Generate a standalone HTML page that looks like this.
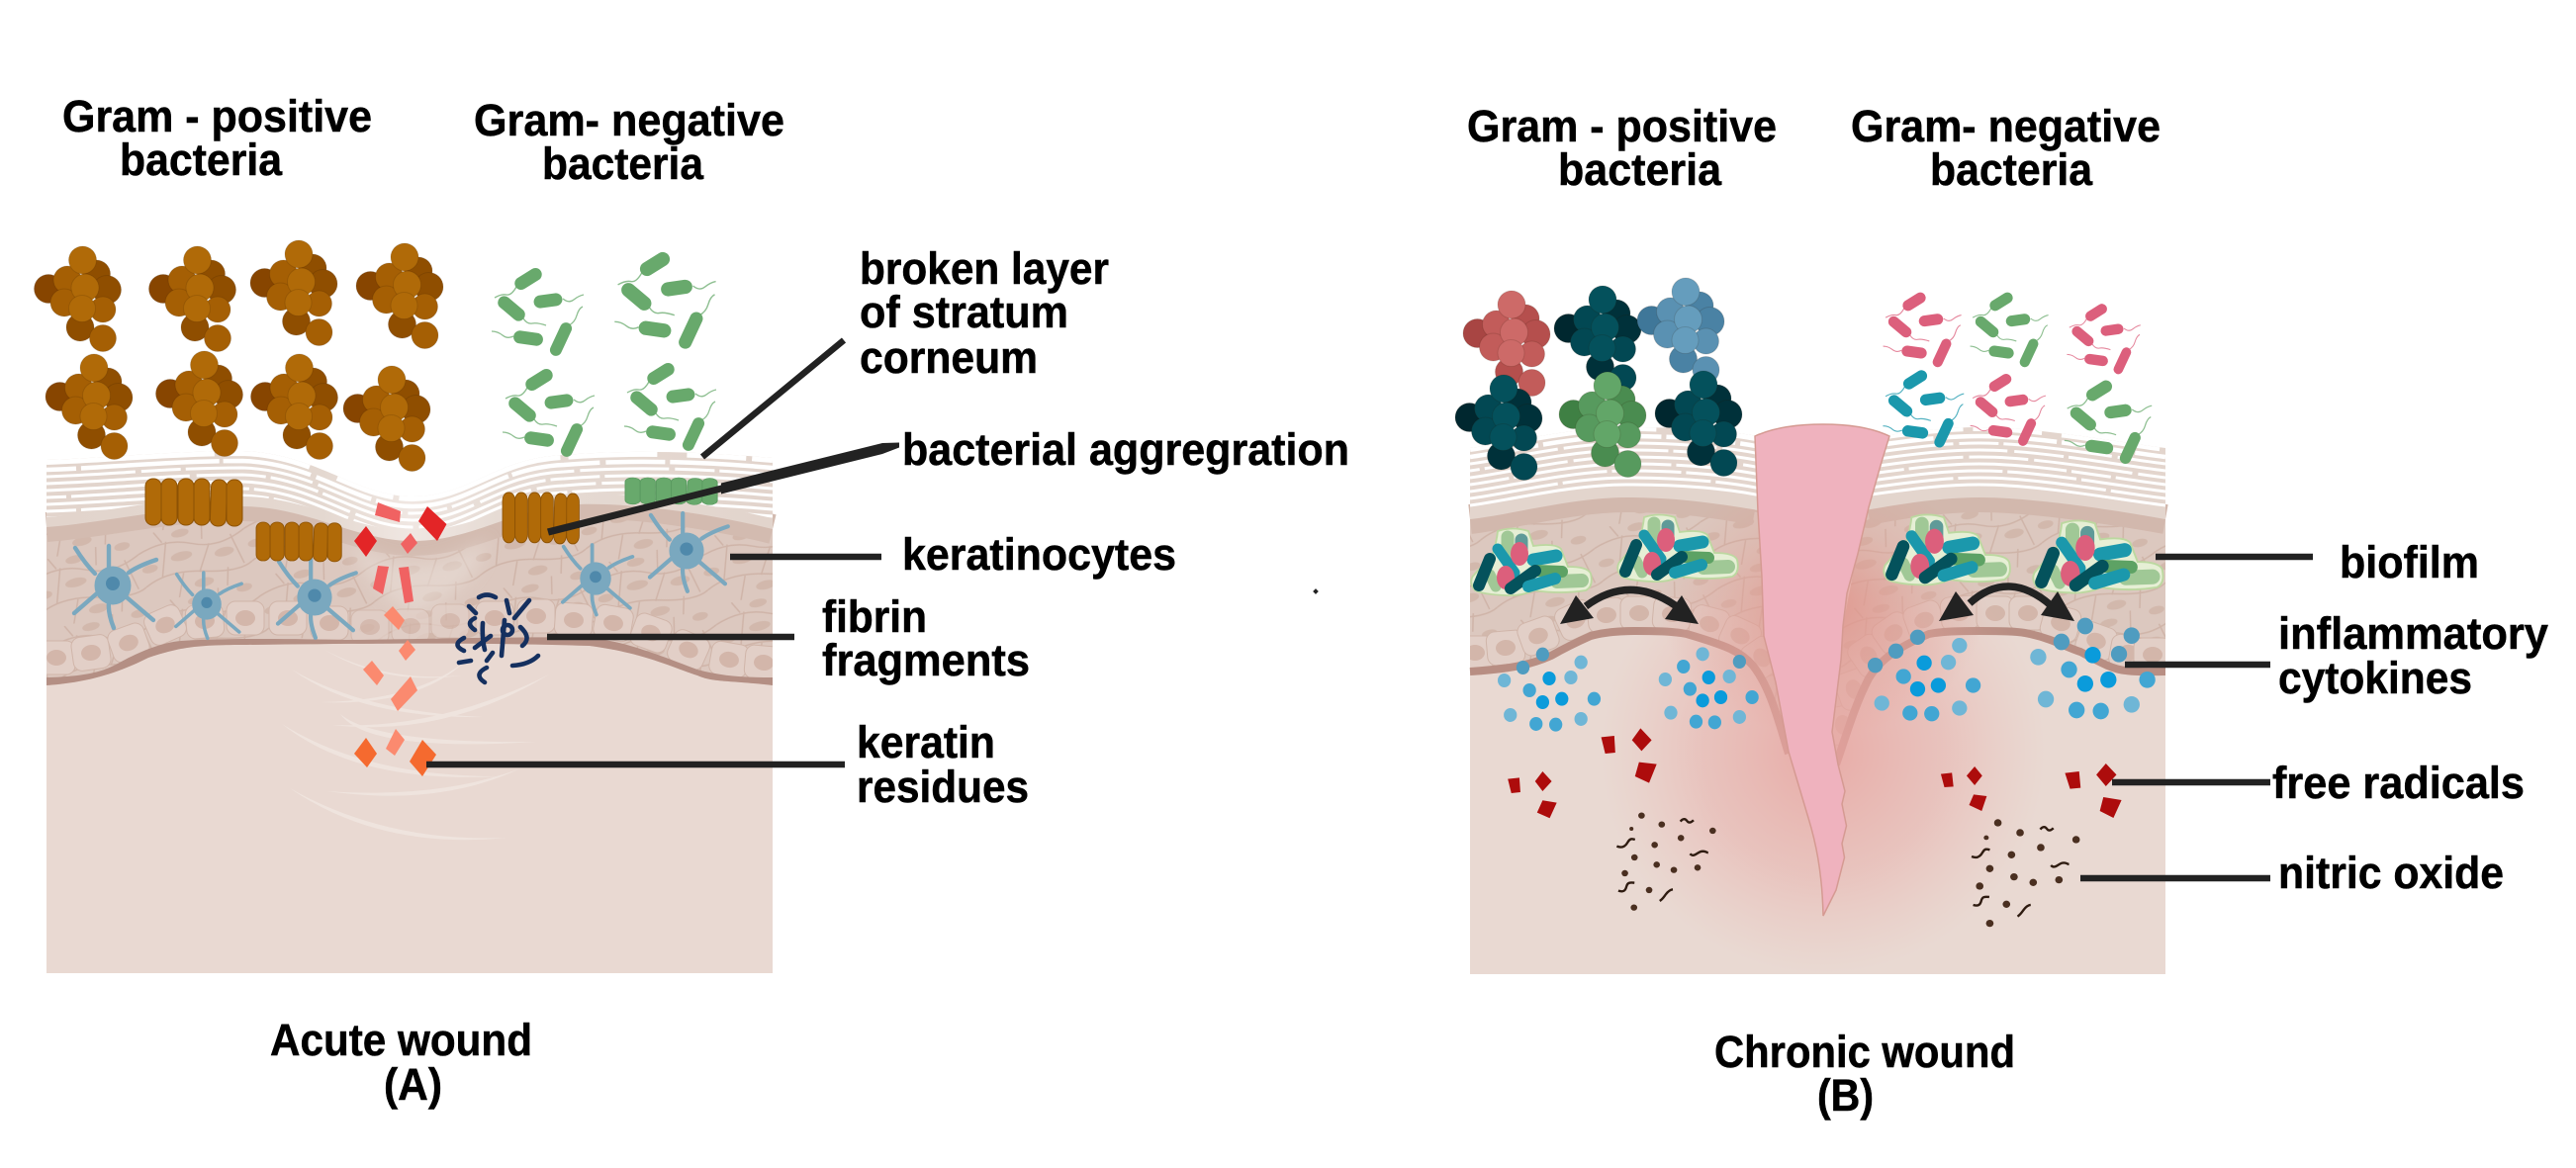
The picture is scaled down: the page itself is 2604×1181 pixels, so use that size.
<!DOCTYPE html>
<html><head><meta charset="utf-8"><title>Acute and chronic wound</title>
<style>
html,body{margin:0;padding:0;background:#fff}
svg{display:block}
text{font-family:"Liberation Sans",sans-serif;font-weight:bold;font-size:45px;fill:#000;stroke:#000;stroke-width:.5}
.x{fill:var(--x)}.d{fill:var(--d)}.m{fill:var(--m)}.l{fill:var(--l)}
.ball{stroke:rgba(40,20,0,.14);stroke-width:1}
.rod{fill:var(--c)}.fl{fill:none;stroke:var(--c);stroke-width:1.3;opacity:.75}
.st{fill:var(--r);stroke:var(--s);stroke-width:1}
.ld{stroke:#222;stroke-width:6.5;fill:none}
.wl{fill:none;stroke:#fff;stroke-width:3}
.dl{fill:#6fb6d6}.dm{fill:#42a6d3}.db{fill:#0a9bdb}.dk{fill:#4f9cc0}
.den{fill:none;stroke:#7aa8bf;stroke-width:4.4;stroke-linecap:round}
.fib{fill:none;stroke:#15305f;stroke-width:4.6;stroke-linecap:round}
.sq{fill:none;stroke:#2e1b10;stroke-width:2.4;vector-effect:non-scaling-stroke}
.bfl{fill:none;stroke-linecap:round}
.str{fill:#efe4de}
</style></head><body>
<svg xmlns="http://www.w3.org/2000/svg" width="2604" height="1181" viewBox="0 0 2604 1181">
<defs>
<filter id="bl" x="-30%" y="-30%" width="160%" height="160%"><feGaussianBlur stdDeviation="8"/></filter>
<pattern id="cells" width="110" height="70" patternUnits="userSpaceOnUse" patternTransform="rotate(-14)">
<rect width="110" height="70" fill="#dcc8bf"/>
<path d="M0,18 Q30,8 55,20 T110,18 M0,52 Q25,40 60,50 T110,52 M30,12 L18,47 M72,24 L56,50 M95,20 L102,52 M40,47 L30,70 M85,52 L80,70 M20,0 L26,12 M70,0 L66,18" fill="none" stroke="#cfb4a8" stroke-width="1.5"/>
<g fill="#d2b8ac"><ellipse cx="42" cy="30" rx="11" ry="4.5"/><ellipse cx="85" cy="36" rx="10" ry="4.5"/><ellipse cx="58" cy="61" rx="10" ry="4.5"/><ellipse cx="8" cy="35" rx="8" ry="4"/><ellipse cx="46" cy="7" rx="9" ry="4"/><ellipse cx="96" cy="6" rx="8" ry="4"/></g>
</pattern>
<radialGradient id="glow"><stop offset="0" stop-color="#e8a39f" stop-opacity=".85"/><stop offset=".55" stop-color="#e8a8a4" stop-opacity=".45"/><stop offset="1" stop-color="#e9b5b0" stop-opacity="0"/></radialGradient>
<radialGradient id="glow2"><stop offset="0" stop-color="#df8a80" stop-opacity=".75"/><stop offset=".6" stop-color="#e09a90" stop-opacity=".3"/><stop offset="1" stop-color="#e09a90" stop-opacity="0"/></radialGradient>
<linearGradient id="scl" gradientUnits="userSpaceOnUse" x1="47" y1="0" x2="781" y2="0"><stop offset="0" stop-color="#e2d4cc"/><stop offset=".38" stop-color="#e4d8d0"/><stop offset=".5" stop-color="#f0e7e2"/><stop offset=".62" stop-color="#e6dbd4"/><stop offset="1" stop-color="#e2d4cc"/></linearGradient>
<clipPath id="scL"><path d="M47,465 C110,463 170,456 245,456 C320,458 360,502 417,502 C475,502 500,463 570,460 C630,455 700,456 781,463 L781,524 C720,510 640,498 585,500 C520,502 480,537 417,537 C360,537 310,502 245,502 C170,502 110,518 47,523 Z"/></clipPath>
<clipPath id="scR1"><path d="M1486,453 C1530,447 1590,432 1644,432 C1690,432 1740,434 1776,441 L1776,505 C1730,497 1690,492 1644,492 C1590,492 1530,509 1486,514 Z"/></clipPath>
<clipPath id="scR2"><path d="M1900,441 C1940,436 1970,432 2001,432 C2060,432 2140,447 2189,453 L2189,514 C2150,507 2060,492 2001,492 C1960,492 1920,499 1885,505 Z"/></clipPath>
<clipPath id="epL"><path d="M47,530 C110,525 170,508 245,508 C310,508 360,543 417,543 C480,543 520,508 585,506 C640,505 720,518 781,532 L781,693 C740,688 720,690 705,683 C680,675 650,660 596,653 C500,650 400,650 250,652 C200,652 183,654 150,665 C120,680 90,690 47,693 Z"/></clipPath>
<clipPath id="epR"><path d="M1486,522 C1530,517 1590,500 1644,500 C1690,500 1740,505 1778,515 L1781,583 L1783,643 L1795,690 L1808,762 C1798,735 1790,700 1772,677 C1760,663 1746,657 1705,645 C1690,642 1670,642 1654,642 C1630,642 1615,645 1608,647 C1590,655 1575,663 1568,667 C1550,675 1532,680 1486,683 Z"/><path d="M1889,513 C1925,505 1965,500 2001,500 C2060,500 2150,517 2189,522 L2189,683 C2175,683 2165,684 2149,682 C2135,681 2120,672 2103,663 C2090,659 2075,650 2052,645 C2040,642 2020,642 2001,642 C1985,642 1965,642 1950,645 C1915,660 1900,672 1889,690 C1874,719 1866,749 1856,773 L1852,740 L1861,667 L1863,633 L1875,570 Z"/></clipPath>
<path id="wlL" d="M47,470 C110,468 170,461 245,461 C320,463 360,507 417,507 C475,507 500,468 570,465 C630,460 700,461 781,468"/>
<path id="wlA" d="M1486,458 C1530,452 1590,437 1644,437 C1690,437 1740,440 1780,448"/>
<path id="wlB" d="M1885,448 C1940,440 1970,437 2001,437 C2060,437 2140,452 2189,458"/>
<g id="cl">
<circle class="x ball" cx="-34.5" cy="29" r="14.5"/><circle class="d ball" cx="14" cy="14" r="14"/><circle class="d ball" cx="24.5" cy="30" r="14.5"/><circle class="d ball" cx="-2.5" cy="68" r="14"/><circle class="m ball" cx="20.5" cy="79" r="13.5"/>
<circle class="m ball" cx="-15.5" cy="20" r="14"/><circle class="m ball" cx="-18.5" cy="43" r="14"/><circle class="l ball" cx="2.5" cy="28" r="14"/><circle class="l ball" cx="0" cy="0" r="14"/><circle class="m ball" cx="20.5" cy="50" r="13"/><circle class="l ball" cx="-.5" cy="49" r="13.5"/>
</g>
<g id="rg">
<path class="fl" d="M-12,8 q-5,9 -10,8 t-12,3 M35,20 q6,5 11,1 t10,-5 M-5,40 q4,6 9,5 t14,2 M41,47 q6,-3 8,-10 t6,-9 M-15,58 q-6,3 -11,-1 t-11,-4"/>
<rect class="rod" x="-15" y="-6.5" width="30" height="13" rx="6.5" transform="rotate(-32)"/>
<rect class="rod" x="-14.5" y="-6.5" width="29" height="13" rx="6.5" transform="translate(20,22) rotate(-8)"/>
<rect class="rod" x="-16" y="-6.5" width="32" height="13" rx="6.5" transform="translate(-17,30) rotate(40)"/>
<rect class="rod" x="-18" y="-6" width="36" height="12" rx="6" transform="translate(33,61) rotate(-65)"/>
<rect class="rod" x="-15" y="-6.5" width="30" height="13" rx="6.5" transform="translate(0,60) rotate(8)"/>
</g>
<g id="st">
<rect class="st" x="0" width="16" height="47" rx="7.5"/><rect class="st" x="16" y="0" width="16" height="47" rx="7.5"/><rect class="st" x="33" y="0" width="16" height="47" rx="7.5"/><rect class="st" x="49" y="0" width="16" height="47" rx="7.5"/><rect class="st" x="66" y="1" width="16" height="47" rx="7.5" transform="rotate(2 74 24)"/><rect class="st" x="82" y="1" width="16" height="47" rx="7.5"/>
</g>
<g id="den">
<path class="den" d="M-4,-18 L-4,-40 M-18,-12 Q-28,-22 -38,-38 M16,-13 Q26,-20 44,-26 M-16,8 L-39,28 M-4,18 Q-5,28 1,43 M14,12 L41,35"/>
<ellipse rx="18.5" ry="19.5" fill="#7aa8bf"/><circle cx="0" cy="-2" r="7" fill="#4f89ab"/>
</g>
<g id="bc"><rect x="-19" y="-17" width="38" height="34" rx="9" fill="#e2cfc7" stroke="#d0b5a9" stroke-width="1"/><ellipse rx="10" ry="8" fill="#d3b6aa"/></g>
<g id="bf">
<path d="M27,2 Q42,-3 58,2 L63,17 Q85,14 91,20 L98,38 Q118,38 121,45 Q124,58 116,62 Q90,66 64,62 Q50,68 35,67 Q12,66 4,62 Q-2,55 1.5,48 L22,25 Q26,12 27,2Z" fill="#e6efd5" stroke="#bcd8a0" stroke-width="1.8"/>
<g class="bfl">
<line x1="37" y1="8" x2="37" y2="28" stroke="#a0c896" stroke-width="13" stroke-linecap="round"/>
<line x1="51" y1="11" x2="51" y2="28" stroke="#5f9a98" stroke-width="13" stroke-linecap="round"/>
<line x1="19" y1="46" x2="25" y2="58" stroke="#a0c896" stroke-width="11" stroke-linecap="round"/>
<line x1="87" y1="53" x2="112" y2="52" stroke="#a0c896" stroke-width="14" stroke-linecap="round"/>
<line x1="27" y1="20" x2="44" y2="44" stroke="#1b98ac" stroke-width="11" stroke-linecap="round"/>
<line x1="19" y1="30" x2="8" y2="57" stroke="#04525c" stroke-width="12" stroke-linecap="round"/>
<line x1="63" y1="31" x2="86" y2="27" stroke="#1b98ac" stroke-width="13" stroke-linecap="round"/>
<line x1="65" y1="42" x2="92" y2="43" stroke="#5da264" stroke-width="12" stroke-linecap="round"/>
<ellipse cx="49" cy="25" rx="9" ry="12" fill="#dc5f7c"/><ellipse cx="35" cy="49" rx="9" ry="12" fill="#dc5f7c"/>
<line x1="40" y1="60" x2="65" y2="42" stroke="#04525c" stroke-width="12" stroke-linecap="round"/>
<line x1="58" y1="58" x2="85" y2="50" stroke="#1b98ac" stroke-width="12" stroke-linecap="round"/>
</g>
</g>
<ellipse id="c1" rx="13" ry="21"/><ellipse id="c2" rx="15" ry="23"/><ellipse id="c3" rx="16" ry="25"/>
<ellipse id="n1" rx="6.5" ry="9.5" fill="#4a2f20"/><ellipse id="n2" rx="7.5" ry="11" fill="#4a2f20"/>
<path id="sq1" class="sq" d="M0,0 c5,-10 10,-9 13,-2 s8,6 13,-2"/>
<path id="sq2" class="sq" d="M0,0 c12,8 18,-2 22,-13 s8,-10 14,-7"/>
<path id="sq3" class="sq" d="M0,0 c8,12 14,-4 22,-7 s10,3 14,4"/>
<path id="sq4" class="sq" d="M0,0 c10,5 14,0 16,-12 s6,-14 16,-12"/>
<path id="sq5" class="sq" d="M0,0 c6,-6 8,-12 12,-20 s8,-14 14,-15"/>
</defs>

<!-- LEFT PANEL -->
<rect x="47" y="640" width="734" height="344" fill="#e9d9d2"/>
<path d="M47,530 C110,525 170,508 245,508 C310,508 360,543 417,543 C480,543 520,508 585,506 C640,505 720,518 781,532 L781,693 C740,688 720,690 705,683 C680,675 650,660 596,653 C500,650 400,650 250,652 C200,652 183,654 150,665 C120,680 90,690 47,693 Z" fill="url(#cells)"/>
<path d="M47,533 C110,528 170,512 245,512 C310,512 360,547 417,547 C480,547 520,512 585,510 C640,508 720,520 781,535" fill="none" stroke="#d3bbb0" stroke-width="30"/>
<path d="M350,545 Q417,595 492,545 Q485,592 420,622 Q380,605 350,545Z" fill="#e8ddd6" opacity=".6" filter="url(#bl)"/>
<g clip-path="url(#epL)">
<use href="#bc" transform="translate(57,665)"/><use href="#bc" transform="translate(92,660) rotate(-8)"/><use href="#bc" transform="translate(130,650) rotate(-20)"/><use href="#bc" transform="translate(167,632) rotate(-24)"/><use href="#bc" transform="translate(207,628) rotate(-5)"/><use href="#bc" transform="translate(248,625)"/><use href="#bc" transform="translate(291,625)"/><use href="#bc" transform="translate(333,630)"/><use href="#bc" transform="translate(374,634)" opacity=".75"/><use href="#bc" transform="translate(415,633)" opacity=".75"/><use href="#bc" transform="translate(455,628)" opacity=".75"/><use href="#bc" transform="translate(500,625)"/><use href="#bc" transform="translate(542,623)"/><use href="#bc" transform="translate(580,627) rotate(4)"/><use href="#bc" transform="translate(620,630) rotate(10)"/><use href="#bc" transform="translate(658,640) rotate(20)"/><use href="#bc" transform="translate(696,657) rotate(24)"/><use href="#bc" transform="translate(737,667) rotate(10)"/><use href="#bc" transform="translate(772,670) rotate(5)"/>
</g>
<path d="M47,693 C90,690 120,680 150,665 C183,654 200,652 250,652 C400,650 500,650 596,653 C650,660 680,675 705,683 C720,690 740,688 781,693 L781,685 C755,685 730,684 705,677 C660,660 630,648 596,645 C550,643 450,646 350,647 C300,646 230,645 183,648 C160,650 135,662 117,672 C105,678 90,684 47,685 Z" fill="#b48f84"/>
<path d="M47,465 C110,463 170,456 245,456 C320,458 360,502 417,502 C475,502 500,463 570,460 C630,455 700,456 781,463 L781,535 C720,520 640,508 585,510 C520,512 480,547 417,547 C360,547 310,512 245,512 C170,512 110,528 47,533 Z" fill="url(#scl)"/>
<g clip-path="url(#scL)">
<use href="#wlL" class="wl" y="-3" style="stroke-width:6;stroke-dasharray:170 8 90 30 60 6"/>
<use href="#wlL" class="wl" y="5" style="stroke-width:4.5;stroke-dasharray:60 5 140 4 90 6;stroke-dashoffset:30"/>
<use href="#wlL" class="wl" y="12" style="stroke-dasharray:90 6 40 5 130 6"/>
<use href="#wlL" class="wl" y="19" style="stroke-dasharray:50 5 160 7 70 5;stroke-dashoffset:70"/>
<use href="#wlL" class="wl" y="26" style="stroke-dasharray:120 6 60 6"/>
<use href="#wlL" class="wl" y="33" style="stroke-dasharray:40 5 180 5 100 6;stroke-dashoffset:20"/>
<use href="#wlL" class="wl" y="40" style="stroke-dasharray:150 5 70 5"/>
<use href="#wlL" class="wl" y="47" style="stroke-dasharray:80 5 200 5;stroke-dashoffset:50"/>
<use href="#wlL" class="wl" y="54"/>
</g>
<!-- dermal streaks -->
<path class="str" d="M328,657 Q390,690 466,683 Q390,694 328,657Z"/>
<path class="str" d="M295,677 Q369,720 488,725 Q365,727 295,677Z"/>
<path class="str" d="M325,710 Q423,708 472,667 Q425,714 325,710Z"/>
<path class="str" d="M336,733 Q444,738 555,682 Q450,746 336,733Z"/>
<path class="str" d="M344,722 Q379,752 542,750 Q372,761 344,722Z"/>
<path class="str" d="M285,732 Q369,785 504,785 Q362,793 285,732Z"/>
<path class="str" d="M331,800 Q444,808 526,777 Q444,816 331,800Z"/>
<path class="str" d="M293,797 Q390,852 512,847 Q385,860 293,797Z"/>
<!-- fragments -->
<g fill="#e32527"><polygon points="432,512 451.5,530 442,547 423,527"/><polygon points="370,532 381,547 370,563 358,547"/></g>
<g fill="#f06262"><polygon points="382,508 405,517 404,528 379,521"/><polygon points="415,539 422,549 412,560 405,550"/><polygon points="382,572 393,573 387,601 377,595"/><polygon points="403,574 413,573 418,608 409,610"/></g>
<g fill="#fb8a6f"><polygon points="397,613 409,627 403,637 388,622"/><polygon points="412,647 420,657 410,668 403,658"/><polygon points="376,668 388,683 381,693 367,677"/><polygon points="415,684 422,698 402,719 395,707"/><polygon points="400,737 409,748 399,764 390,757"/></g>
<g fill="#f56a2f"><polygon points="370,746 381,762 371,776 358,762"/><polygon points="427,748 441,763 427,785 414,770"/></g>
<!-- fibrin -->
<g class="fib">
<path d="M484,604 Q492,599 501,604 M512,607 L515,620 M535,607 L520,625 M474,613 L481,620 M480,637 Q470,630 480,625 M488,630 Q487,645 490,657 M480,655 L496,643 M510,627 L507,663 M526,634 Q538,645 528,653 M469,645 Q456,652 469,658 M464,670 L476,668 M498,660 L492,668 M518,673 Q535,672 544,663 M492,675 Q478,682 490,690"/>
<circle cx="513" cy="637" r="5"/>
</g>
<!-- dendritic -->
<use href="#den" transform="translate(114,592)"/><use href="#den" transform="translate(209,611) scale(.8)"/><use href="#den" transform="translate(318,604) scale(.95)"/><use href="#den" transform="translate(602,585) scale(.85)"/><use href="#den" transform="translate(694,557) scale(.95)"/>
<!-- stacks -->
<g style="--r:#b06a08;--s:#8d5204">
<use href="#st" transform="translate(147,484)"/><use href="#st" transform="translate(259,528) scale(.88,.83)"/><use href="#st" transform="translate(508,498) scale(.79,1.08)"/>
</g>
<use href="#st" transform="translate(632,483) scale(.95,.57)" style="--r:#68a96c;--s:#5a9a60"/>
<!-- clusters left -->
<g style="--x:#874500;--d:#8f4e00;--m:#a55f04;--l:#b06a08">
<use href="#cl" x="83.5" y="263"/><use href="#cl" x="199.5" y="263"/><use href="#cl" x="302" y="257"/><use href="#cl" x="409" y="260"/>
<use href="#cl" x="95" y="372"/><use href="#cl" x="206.5" y="369"/><use href="#cl" x="302.5" y="372"/><use href="#cl" x="396" y="384"/>
</g>
<!-- rods left -->
<g style="--c:#68a96c">
<use href="#rg" transform="translate(534,282)"/><use href="#rg" transform="translate(662,267) scale(1.1)"/><use href="#rg" transform="translate(545,384)"/><use href="#rg" transform="translate(668,378)"/>
</g>

<!-- RIGHT PANEL -->
<rect x="1486" y="630" width="703" height="355" fill="#e9d9d2"/>
<path d="M1486,522 C1530,517 1590,500 1644,500 C1690,500 1740,505 1778,515 L1781,583 L1783,643 L1795,690 L1808,762 C1798,735 1790,700 1772,677 C1760,663 1746,657 1705,645 C1690,642 1670,642 1654,642 C1630,642 1615,645 1608,647 C1590,655 1575,663 1568,667 C1550,675 1532,680 1486,683 Z" fill="url(#cells)"/>
<path d="M1889,513 C1925,505 1965,500 2001,500 C2060,500 2150,517 2189,522 L2189,683 C2175,683 2165,684 2149,682 C2135,681 2120,672 2103,663 C2090,659 2075,650 2052,645 C2040,642 2020,642 2001,642 C1985,642 1965,642 1950,645 C1915,660 1900,672 1889,690 C1874,719 1866,749 1856,773 L1852,740 L1861,667 L1863,633 L1875,570 Z" fill="url(#cells)"/>
<path d="M1486,525 C1530,520 1590,503 1644,503 C1690,503 1730,508 1774,516" fill="none" stroke="#d2b8ad" stroke-width="30"/>
<path d="M1888,516 C1920,510 1960,503 2001,503 C2060,503 2150,518 2189,525" fill="none" stroke="#d2b8ad" stroke-width="30"/>
<g clip-path="url(#epR)">
<use href="#bc" transform="translate(1491,660)"/><use href="#bc" transform="translate(1522,655) rotate(-5)"/><use href="#bc" transform="translate(1555,643) rotate(-20)"/><use href="#bc" transform="translate(1593,627) rotate(-25)"/><use href="#bc" transform="translate(1624,622) rotate(-5)"/><use href="#bc" transform="translate(1657,620)"/><use href="#bc" transform="translate(1690,621) rotate(5)"/><use href="#bc" transform="translate(1728,631) rotate(15)"/><use href="#bc" transform="translate(1759,643) rotate(25)"/><use href="#bc" transform="translate(1781,665) rotate(55)"/>
<use href="#bc" transform="translate(1863,733) rotate(80)"/><use href="#bc" transform="translate(1874,697) rotate(70)"/><use href="#bc" transform="translate(1889,663) rotate(55)"/><use href="#bc" transform="translate(1914,640) rotate(-35)"/><use href="#bc" transform="translate(1945,627) rotate(-20)"/><use href="#bc" transform="translate(1981,620) rotate(-5)"/><use href="#bc" transform="translate(2017,620)"/><use href="#bc" transform="translate(2050,620)"/><use href="#bc" transform="translate(2083,630) rotate(15)"/><use href="#bc" transform="translate(2119,648) rotate(20)"/><use href="#bc" transform="translate(2152,660) rotate(10)"/><use href="#bc" transform="translate(2176,662)"/>
</g>
<path d="M1486,679 C1532,676 1550,671 1568,663 C1575,659 1590,651 1608,643 C1615,641 1630,638 1654,638 C1670,638 1690,638 1705,641 C1746,653 1760,659 1772,673 C1790,696 1798,730 1808,762" fill="none" stroke="#b88e83" stroke-width="8"/>
<path d="M1856,773 C1866,745 1874,715 1889,686 C1900,668 1915,656 1950,641 C1965,638 1985,638 2001,638 C2020,638 2040,638 2052,641 C2075,646 2090,655 2103,659 C2120,668 2135,677 2149,678 C2165,680 2175,679 2189,679" fill="none" stroke="#b88e83" stroke-width="8"/>
<ellipse cx="1843" cy="760" rx="225" ry="225" fill="url(#glow)"/>
<ellipse cx="1843" cy="610" rx="165" ry="135" fill="url(#glow2)"/>
<path d="M1486,453 C1530,447 1590,432 1644,432 C1690,432 1740,434 1776,441 L1778,516 C1730,508 1690,503 1644,503 C1590,503 1530,520 1486,525 Z" fill="#e3d5cd"/>
<path d="M1900,441 C1940,436 1970,432 2001,432 C2060,432 2140,447 2189,453 L2189,525 C2150,518 2060,503 2001,503 C1960,503 1920,510 1885,516 Z" fill="#e3d5cd"/>
<g clip-path="url(#scR1)">
<use href="#wlA" class="wl" y="-4" style="stroke-width:6;stroke-dasharray:120 10 60 20"/>
<use href="#wlA" class="wl" y="4" style="stroke-width:4.5;stroke-dasharray:70 5 120 5"/>
<use href="#wlA" class="wl" y="11" style="stroke-dasharray:90 6 40 5 110 6"/>
<use href="#wlA" class="wl" y="18" style="stroke-dasharray:50 5 130 7;stroke-dashoffset:40"/>
<use href="#wlA" class="wl" y="25" style="stroke-dasharray:100 6 60 6"/>
<use href="#wlA" class="wl" y="32" style="stroke-dasharray:40 5 160 5"/>
<use href="#wlA" class="wl" y="39" style="stroke-dasharray:140 5 70 5"/>
<use href="#wlA" class="wl" y="46" style="stroke-dasharray:90 5 150 5"/>
<use href="#wlA" class="wl" y="53"/>
</g>
<g clip-path="url(#scR2)">
<use href="#wlB" class="wl" y="-4" style="stroke-width:6;stroke-dasharray:100 10 70 20"/>
<use href="#wlB" class="wl" y="4" style="stroke-width:4.5;stroke-dasharray:70 5 120 5"/>
<use href="#wlB" class="wl" y="11" style="stroke-dasharray:90 6 40 5 110 6"/>
<use href="#wlB" class="wl" y="18" style="stroke-dasharray:50 5 130 7;stroke-dashoffset:40"/>
<use href="#wlB" class="wl" y="25" style="stroke-dasharray:100 6 60 6"/>
<use href="#wlB" class="wl" y="32" style="stroke-dasharray:40 5 160 5"/>
<use href="#wlB" class="wl" y="39" style="stroke-dasharray:140 5 70 5"/>
<use href="#wlB" class="wl" y="46" style="stroke-dasharray:90 5 150 5"/>
<use href="#wlB" class="wl" y="53"/>
</g>
<path d="M1774,441 Q1800,429 1843,429 Q1885,429 1910,441 L1902,467 L1889,513 L1878,560 L1867,600 L1863,633 L1861,667 L1852,740 L1858,773 L1865,800 L1862,813 L1866.5,835 L1862,853 L1864.5,867 L1856,900 L1843,926 C1842,880 1835,850 1828,827 L1808,760 L1795,690 L1783,643 L1781,583 L1777,517 Z" fill="#efb2be" stroke="#d59a92" stroke-width="1.5"/>
<!-- clusters right -->
<use href="#cl" x="1528" y="308" style="--x:#a84543;--d:#b54f4d;--m:#c25c5a;--l:#cd6a68"/>
<use href="#cl" x="1620" y="303" style="--x:#00272f;--d:#00313a;--m:#024853;--l:#04515c"/>
<use href="#cl" x="1704" y="295" style="--x:#3f7799;--d:#4a82a4;--m:#5a91b2;--l:#659dbd"/>
<use href="#cl" x="1520" y="393" style="--x:#00272f;--d:#00313a;--m:#024853;--l:#04515c"/>
<use href="#cl" x="1625" y="390" style="--x:#3f8044;--d:#4a8c50;--m:#579a5e;--l:#62a668"/>
<use href="#cl" x="1722" y="389" style="--x:#00272f;--d:#00313a;--m:#024853;--l:#04515c"/>
<!-- rods right -->
<use href="#rg" transform="translate(1935,305) scale(.85)" style="--c:#dc5f7c"/>
<use href="#rg" transform="translate(2023,305) scale(.85)" style="--c:#68a96c"/>
<use href="#rg" transform="translate(2119,316) scale(.8)" style="--c:#dc5f7c"/>
<use href="#rg" transform="translate(1936,384) scale(.88)" style="--c:#1b98ac"/>
<use href="#rg" transform="translate(2022,387) scale(.82)" style="--c:#dc5f7c"/>
<use href="#rg" transform="translate(2122,395) scale(.95)" style="--c:#68a96c"/>
<!-- biofilm -->
<use href="#bf" transform="translate(1487,535)"/><use href="#bf" transform="translate(1635,521)"/><use href="#bf" transform="translate(1904,521) scale(1.05)"/><use href="#bf" transform="translate(2055,527) scale(1.08)"/>
<!-- arrows -->
<path d="M1603,613 Q1650,578 1700,617" fill="none" stroke="#222" stroke-width="7.5"/>
<polygon points="1593,602 1611,625 1577,631" fill="#222"/><polygon points="1700,602 1717,631 1683,626" fill="#222"/>
<path d="M1991,610 Q2030,575 2073,612" fill="none" stroke="#222" stroke-width="7.5"/>
<polygon points="1977,598 1995,622 1960,628" fill="#222"/><polygon points="2080,598 2097,628 2063,622" fill="#222"/>
<!-- cytokines, radicals, NO: coordinates in a scaled frame -->
<g transform="translate(1440,600) scale(.5102,.3333)">
<g class="dl"><use href="#c1" x="158" y="264"/><use href="#c1" x="290" y="255"/><use href="#c1" x="310" y="209"/><use href="#c1" x="170" y="369"/><use href="#c1" x="310" y="381"/><use href="#c1" x="551" y="184"/><use href="#c1" x="477" y="261"/><use href="#c1" x="604" y="252"/><use href="#c1" x="488" y="362"/><use href="#c1" x="624" y="375"/><use href="#c2" x="1060" y="158"/><use href="#c2" x="1038" y="209"/><use href="#c2" x="906" y="333"/><use href="#c2" x="1060" y="348"/><use href="#c3" x="1216" y="193"/><use href="#c3" x="1231" y="321"/><use href="#c3" x="1401" y="337"/></g>
<g class="dk"><use href="#c1" x="234" y="185"/><use href="#c1" x="195" y="225"/><use href="#c1" x="624" y="207"/><use href="#c2" x="977" y="133"/><use href="#c2" x="934" y="175"/><use href="#c2" x="893" y="218"/><use href="#c3" x="1262" y="147"/><use href="#c3" x="1309" y="99"/><use href="#c3" x="1401" y="128"/><use href="#c3" x="1376" y="184"/></g>
<g class="dm"><use href="#c1" x="208" y="294"/><use href="#c1" x="336" y="320"/><use href="#c1" x="221" y="396"/><use href="#c1" x="260" y="398"/><use href="#c1" x="513" y="222"/><use href="#c1" x="526" y="290"/><use href="#c1" x="649" y="315"/><use href="#c1" x="538" y="389"/><use href="#c1" x="575" y="391"/><use href="#c2" x="949" y="252"/><use href="#c2" x="1087" y="279"/><use href="#c2" x="962" y="363"/><use href="#c2" x="1005" y="365"/><use href="#c3" x="1277" y="231"/><use href="#c3" x="1432" y="262"/><use href="#c3" x="1292" y="354"/><use href="#c3" x="1340" y="357"/></g>
<g class="db"><use href="#c1" x="247" y="258"/><use href="#c1" x="234" y="330"/><use href="#c1" x="272" y="320"/><use href="#c1" x="563" y="255"/><use href="#c1" x="551" y="325"/><use href="#c1" x="587" y="315"/><use href="#c2" x="990" y="211"/><use href="#c2" x="977" y="290"/><use href="#c2" x="1018" y="279"/><use href="#c3" x="1324" y="187"/><use href="#c3" x="1309" y="274"/><use href="#c3" x="1355" y="262"/></g>
<g fill="#ad0c0c">
<polygon points="350,436 376,432 378,483 358,486"/><polygon points="428,409 450,445 430,478 411,445"/><polygon points="425,512 460,518 445,575 417,555"/><polygon points="165,563 188,559 190,603 172,606"/><polygon points="234,540 252,570 234,600 219,570"/><polygon points="234,628 262,635 248,682 223,665"/>
<polygon points="1023,548 1045,544 1048,586 1030,588"/><polygon points="1090,525 1105,553 1090,582 1074,553"/><polygon points="1088,610 1114,615 1104,660 1079,642"/><polygon points="1269,545 1297,540 1300,590 1279,593"/><polygon points="1350,516 1371,550 1350,585 1331,550"/><polygon points="1345,618 1381,627 1365,681 1338,660"/>
</g>
<use href="#n1" x="430" y="674"/><use href="#n1" x="470" y="701"/><use href="#n1" x="571" y="720"/><use href="#n1" x="508" y="742"/><use href="#n1" x="456" y="763"/><use href="#n1" x="416" y="801"/><use href="#n1" x="460" y="823"/><use href="#n1" x="494" y="839"/><use href="#n1" x="541" y="832"/><use href="#n1" x="397" y="849"/><use href="#n1" x="445" y="900"/><use href="#n1" x="415" y="953"/><ellipse cx="410" cy="714" rx="4" ry="6" fill="#4a2f20"/>
<use href="#n2" x="1136" y="696"/><use href="#n2" x="1180" y="726"/><use href="#n2" x="1291" y="747"/><use href="#n2" x="1221" y="771"/><use href="#n2" x="1163" y="793"/><use href="#n2" x="1120" y="835"/><use href="#n2" x="1168" y="860"/><use href="#n2" x="1206" y="877"/><use href="#n2" x="1257" y="869"/><use href="#n2" x="1100" y="888"/><use href="#n2" x="1153" y="943"/><use href="#n2" x="1120" y="1001"/><ellipse cx="1113" cy="741" rx="5" ry="7" fill="#4a2f20"/>
<use href="#sq1" x="507" y="692"/><use href="#sq2" x="381" y="767"/><use href="#sq3" x="526" y="790"/><use href="#sq4" x="384" y="902"/><use href="#sq5" x="466" y="933"/>
<use href="#sq1" x="1220" y="716"/><use href="#sq2" x="1084" y="798"/><use href="#sq3" x="1241" y="825"/><use href="#sq4" x="1087" y="945"/><use href="#sq5" x="1175" y="980"/>
</g>

<!-- leader lines -->
<line class="ld" x1="710" y1="462" x2="853" y2="344"/>
<polygon points="553,534.5 729,490.5 729,488.5 892,448 909,447.5 909,452.5 892,459 729,499.5 729,497.5 555,541.5" fill="#222"/>
<line class="ld" x1="738" y1="563" x2="891" y2="563"/>
<line class="ld" x1="553" y1="644" x2="803" y2="644"/>
<line class="ld" x1="431" y1="773" x2="854" y2="773"/>
<line class="ld" x1="2179" y1="563" x2="2338" y2="563"/>
<line class="ld" x1="2148" y1="672" x2="2295" y2="672"/>
<line class="ld" x1="2135" y1="791" x2="2295" y2="791"/>
<line class="ld" x1="2103" y1="888" x2="2295" y2="888"/>
<rect x="1328" y="596" width="4" height="4" fill="#222" transform="rotate(45 1330 598)"/>

<!-- labels -->
<text x="63" y="133" textLength="313" lengthAdjust="spacingAndGlyphs">Gram - positive</text>
<text x="121" y="177" textLength="164" lengthAdjust="spacingAndGlyphs">bacteria</text>
<text x="479" y="137" textLength="314" lengthAdjust="spacingAndGlyphs">Gram- negative</text>
<text x="548" y="181" textLength="163" lengthAdjust="spacingAndGlyphs">bacteria</text>
<text x="1483" y="143" textLength="313" lengthAdjust="spacingAndGlyphs">Gram - positive</text>
<text x="1575" y="187" textLength="165" lengthAdjust="spacingAndGlyphs">bacteria</text>
<text x="1871" y="143" textLength="313" lengthAdjust="spacingAndGlyphs">Gram- negative</text>
<text x="1951" y="187" textLength="164" lengthAdjust="spacingAndGlyphs">bacteria</text>
<text x="869" y="287" textLength="252" lengthAdjust="spacingAndGlyphs">broken layer</text>
<text x="869" y="331" textLength="211" lengthAdjust="spacingAndGlyphs">of stratum</text>
<text x="869" y="377" textLength="180" lengthAdjust="spacingAndGlyphs">corneum</text>
<text x="912" y="470" textLength="452" lengthAdjust="spacingAndGlyphs">bacterial aggregration</text>
<text x="912" y="576" textLength="277" lengthAdjust="spacingAndGlyphs">keratinocytes</text>
<text x="831" y="639" textLength="106" lengthAdjust="spacingAndGlyphs">fibrin</text>
<text x="831" y="683" textLength="210" lengthAdjust="spacingAndGlyphs">fragments</text>
<text x="866" y="766" textLength="140" lengthAdjust="spacingAndGlyphs">keratin</text>
<text x="866" y="811" textLength="174" lengthAdjust="spacingAndGlyphs">residues</text>
<text x="2365" y="584" textLength="141" lengthAdjust="spacingAndGlyphs">biofilm</text>
<text x="2303" y="656" textLength="273" lengthAdjust="spacingAndGlyphs">inflammatory</text>
<text x="2303" y="701" textLength="196" lengthAdjust="spacingAndGlyphs">cytokines</text>
<text x="2297" y="807" textLength="255" lengthAdjust="spacingAndGlyphs">free radicals</text>
<text x="2303" y="898" textLength="228" lengthAdjust="spacingAndGlyphs">nitric oxide</text>
<text x="273" y="1067" textLength="265" lengthAdjust="spacingAndGlyphs">Acute wound</text>
<text x="388" y="1112" textLength="59" lengthAdjust="spacingAndGlyphs">(A)</text>
<text x="1733" y="1079" textLength="304" lengthAdjust="spacingAndGlyphs">Chronic wound</text>
<text x="1837" y="1123" textLength="57" lengthAdjust="spacingAndGlyphs">(B)</text>
</svg>
</body></html>
